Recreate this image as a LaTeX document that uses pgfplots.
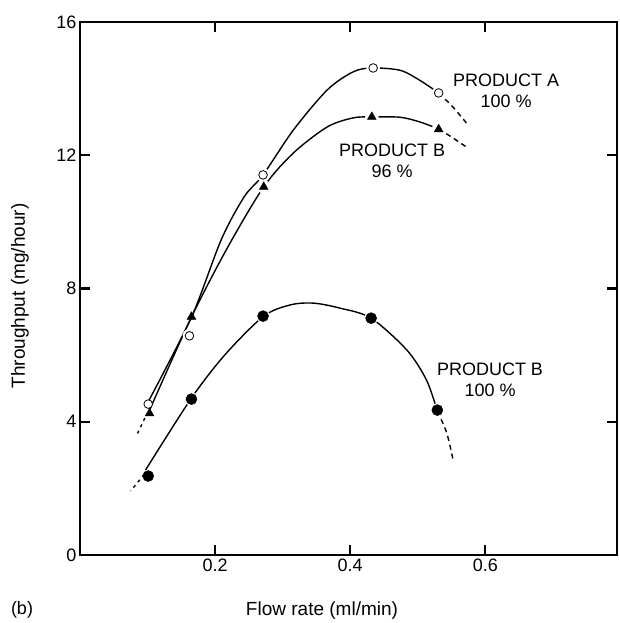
\documentclass[border=0pt]{standalone}
\usepackage{fontspec}
\setmainfont{Liberation Sans}
\usepackage{pgfplots}
\pgfplotsset{compat=1.18}
\begin{document}
\begin{tikzpicture}[x=1pt,y=1pt]
\useasboundingbox (0,0) rectangle (619,623);
\begin{axis}[
  name=ax,
  at={(80pt,68pt)}, anchor=south west,
  scale only axis, width=537pt, height=533pt,
  xmin=0, xmax=0.795, ymin=0, ymax=16,
  xtick={0.2,0.4,0.6}, ytick={0,4,8,12,16},
  tick align=inside, major tick length=10pt,
  tick style={line width=2.2pt, black},
  axis line style={line width=2.6pt},
  /pgf/number format/assume math mode=true,
  ticklabel style={font=\fontsize{18}{20}\selectfont},
  xticklabel style={/pgf/number format/.cd, fixed, fixed zerofill, precision=1},
  clip=false,
]
% Product A curve
\addplot[black, line width=1.4pt, smooth] coordinates {
(0.101,4.60) (0.165,7.14) (0.209,9.46) (0.243,10.75) (0.271,11.41) (0.316,12.76)
(0.366,13.96) (0.404,14.50) (0.432,14.62) (0.474,14.55) (0.503,14.25) (0.531,13.87)};
\addplot[black, line width=1.4pt, dash pattern=on 5pt off 4pt, smooth] coordinates {
(0.531,13.87) (0.552,13.45) (0.572,12.97)};
% Product B 96 curve
\addplot[black, line width=1.4pt, smooth] coordinates {
(0.103,4.35) (0.165,7.14) (0.219,9.25) (0.272,11.05) (0.316,12.07) (0.366,12.85)
(0.404,13.12) (0.432,13.15) (0.474,13.14) (0.503,13.00) (0.531,12.79)};
\addplot[black, line width=1.4pt, dash pattern=on 5pt off 4pt, smooth] coordinates {
(0.531,12.79) (0.552,12.52) (0.574,12.22)};
\addplot[black, line width=1.4pt, dash pattern=on 3pt off 4pt] coordinates {
(0.096,4.11) (0.084,3.60)};
% Product B 100 curve
\addplot[black, line width=1.4pt, smooth] coordinates {
(0.097,2.55) (0.165,4.71) (0.215,6.02) (0.272,7.17) (0.312,7.51) (0.346,7.56)
(0.385,7.41) (0.431,7.11) (0.484,6.15) (0.513,5.25) (0.529,4.32)};
\addplot[black, line width=1.4pt, dash pattern=on 5pt off 4pt, smooth] coordinates {
(0.529,4.32) (0.543,3.66) (0.553,2.79)};
\addplot[black, line width=1.4pt, dash pattern=on 3pt off 4pt] coordinates {
(0.095,2.42) (0.075,1.92)};
% white halos
\addplot[only marks, mark=*, mark size=6.5pt, mark options={fill=white, draw=white, line width=0.5pt}] coordinates {
(0.162,6.58) (0.271,11.41) (0.434,14.62) (0.531,13.87)
(0.272,11.05) (0.432,13.15) (0.531,12.78)
(0.165,4.68) (0.271,7.17) (0.431,7.11) (0.529,4.35)};
% markers
\addplot[only marks, mark=*, mark size=4.3pt, mark options={fill=white, draw=black, line width=0.8pt}] coordinates {
(0.101,4.53) (0.162,6.58) (0.271,11.41) (0.434,14.62) (0.531,13.87)};
\addplot[only marks, mark=triangle*, mark size=5pt, mark options={fill=black, draw=black, line width=0.5pt}] coordinates {
(0.103,4.25) (0.165,7.15) (0.272,11.05) (0.432,13.15) (0.531,12.78)};
\addplot[only marks, mark=*, mark size=5.5pt, mark options={fill=black, draw=black, line width=0.5pt}] coordinates {
(0.101,2.37) (0.165,4.68) (0.271,7.17) (0.431,7.11) (0.529,4.35)};
\node[align=center, font=\fontsize{18}{21}\selectfont] at (axis cs:0.631,13.93) {PRODUCT A\\100 \%};
\node[align=center, font=\fontsize{18}{21}\selectfont] at (axis cs:0.462,11.83) {PRODUCT B\\96 \%};
\node[align=center, font=\fontsize{18}{21}\selectfont] at (axis cs:0.607,5.25) {PRODUCT B\\100 \%};
\end{axis}
\draw[line width=2.6pt] (ax.south west) rectangle (ax.north east);
\node[font=\fontsize{19}{22}\selectfont] at (322,12) {Flow rate (ml/min)};
\node[font=\fontsize{18}{21}\selectfont] at (22,13) {(b)};
\node[font=\fontsize{19}{22}\selectfont, rotate=90] at (20,327) {Throughput (mg/hour)};
\end{tikzpicture}
\end{document}
